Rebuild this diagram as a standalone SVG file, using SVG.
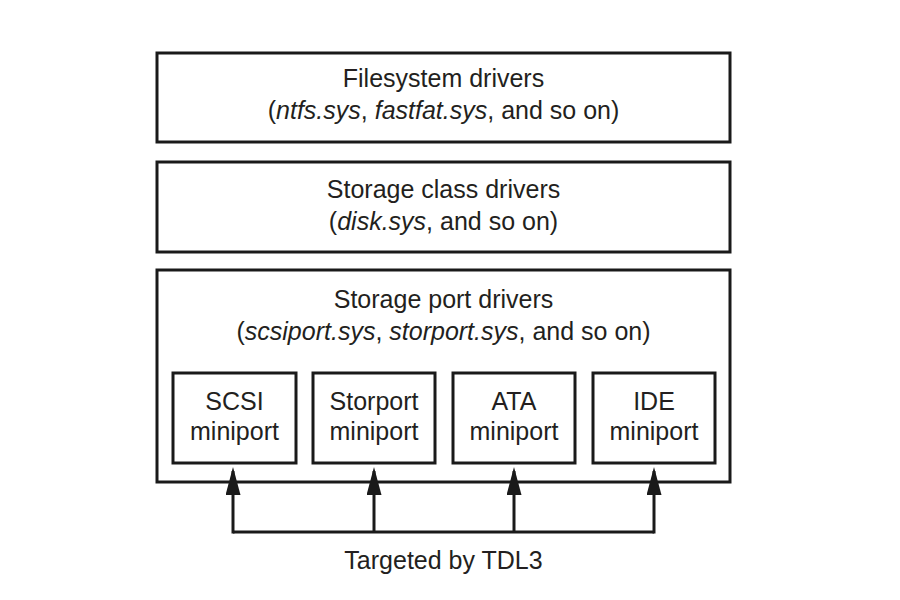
<svg xmlns="http://www.w3.org/2000/svg" width="900" height="600" viewBox="0 0 900 600">
  <style>
    .box { fill: #ffffff; stroke: #1a1a1a; stroke-width: 3; }
    .t { font-family: "Liberation Sans", Arial, sans-serif; font-size: 25px; fill: #231f20; text-anchor: middle; }
    .i { font-style: italic; }
    .wire { fill: none; stroke: #1a1a1a; stroke-width: 3; }
  </style>
  <defs>
    <marker id="arrow" viewBox="0 0 28 15" refX="24" refY="7.5" markerWidth="28" markerHeight="15" markerUnits="userSpaceOnUse" orient="auto">
      <path d="M0,0 L28,7.5 L0,15 Z" fill="#1a1a1a"/>
    </marker>
  </defs>
  <rect width="900" height="600" fill="#ffffff"/>

  <g id="filesystem-drivers">
    <rect class="box" x="157" y="53" width="573" height="89"/>
    <text class="t" x="443.5" y="87">Filesystem drivers</text>
    <text class="t" x="443.5" y="119">(<tspan class="i">ntfs.sys</tspan>, <tspan class="i">fastfat.sys</tspan>, and so on)</text>
  </g>

  <g id="storage-class-drivers">
    <rect class="box" x="157" y="162" width="573" height="90"/>
    <text class="t" x="443.5" y="198">Storage class drivers</text>
    <text class="t" x="443.5" y="230">(<tspan class="i">disk.sys</tspan>, and so on)</text>
  </g>

  <g id="storage-port-drivers">
    <rect class="box" x="157" y="270" width="573" height="212"/>
    <text class="t" x="443.5" y="308">Storage port drivers</text>
    <text class="t" x="443.5" y="340">(<tspan class="i">scsiport.sys</tspan>, <tspan class="i">storport.sys</tspan>, and so on)</text>
  </g>

  <g id="scsi-miniport">
    <rect class="box" x="173" y="373" width="123" height="90"/>
    <text class="t" x="234.5" y="410">SCSI</text>
    <text class="t" x="234.5" y="440">miniport</text>
  </g>

  <g id="storport-miniport">
    <rect class="box" x="313" y="373" width="122" height="90"/>
    <text class="t" x="374" y="410">Storport</text>
    <text class="t" x="374" y="440">miniport</text>
  </g>

  <g id="ata-miniport">
    <rect class="box" x="453" y="373" width="122" height="90"/>
    <text class="t" x="514" y="410">ATA</text>
    <text class="t" x="514" y="440">miniport</text>
  </g>

  <g id="ide-miniport">
    <rect class="box" x="593" y="373" width="122" height="90"/>
    <text class="t" x="654" y="410">IDE</text>
    <text class="t" x="654" y="440">miniport</text>
  </g>

  <g id="connectors">
    <path class="wire" d="M233,532 H654"/>
    <path class="wire" d="M233,533.5 V471" marker-end="url(#arrow)"/>
    <path class="wire" d="M374,532 V471" marker-end="url(#arrow)"/>
    <path class="wire" d="M514,532 V471" marker-end="url(#arrow)"/>
    <path class="wire" d="M654,533.5 V471" marker-end="url(#arrow)"/>
  </g>

  <g id="targeted-label">
    <text class="t" x="443.5" y="569">Targeted by TDL3</text>
  </g>
</svg>
